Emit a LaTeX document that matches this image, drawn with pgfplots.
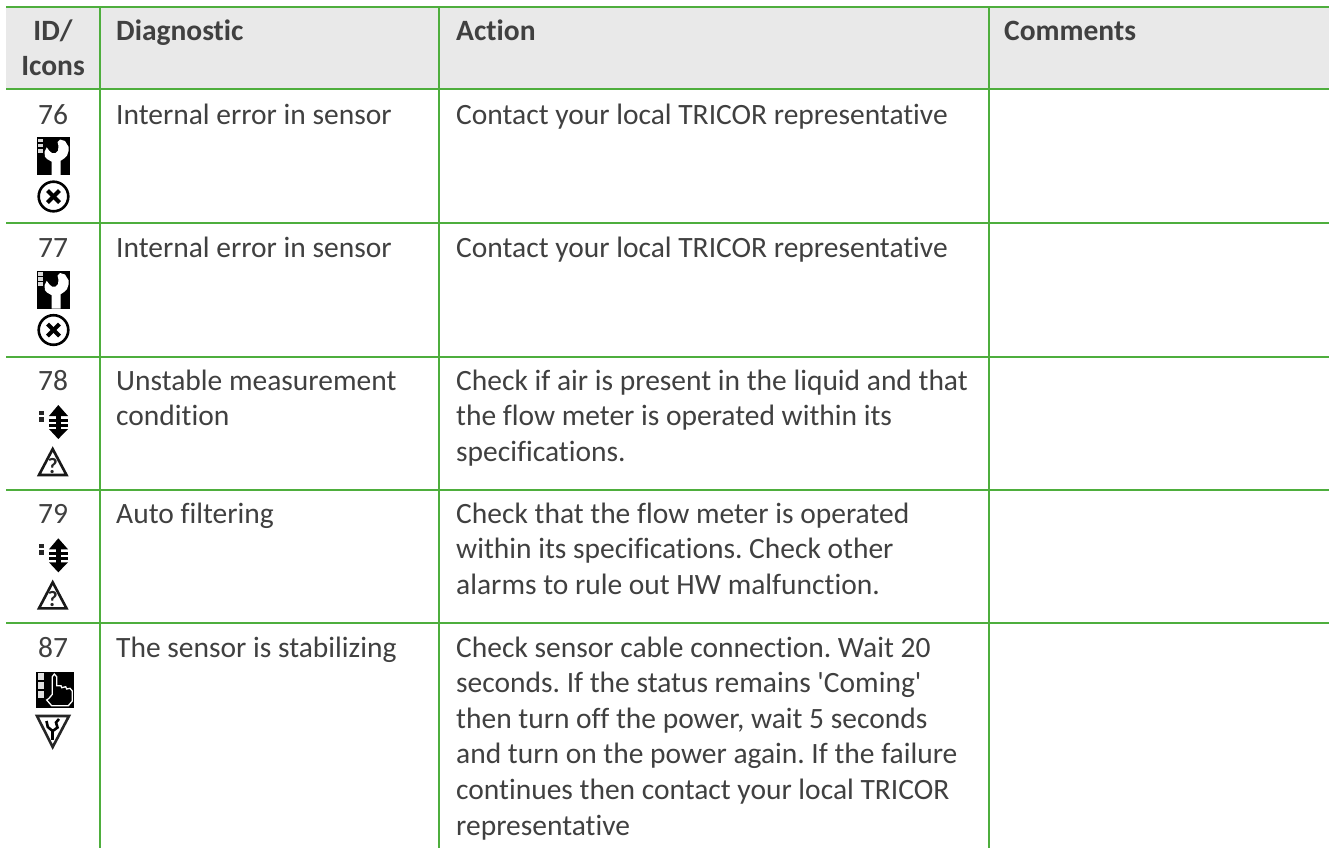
\documentclass[border=0pt]{standalone}
\usepackage{pgfplots}
\pgfplotsset{compat=1.18}
\usepackage{fontspec}
\setmainfont[Ligatures={NoCommon,TeXOff}]{Carlito}
\frenchspacing
\definecolor{gr}{HTML}{4EAE3D}
\definecolor{hd}{HTML}{E9E9E9}
\definecolor{txt}{HTML}{404040}
\newcommand{\body}{\fontsize{29.6}{36}\selectfont\frenchspacing}
\newcommand{\T}[3]{\node[anchor=base west,inner sep=0pt,text=txt,font=\body] at (axis cs:#1,#2) {#3};}
\newcommand{\B}[3]{\node[anchor=base west,inner sep=0pt,text=txt,font=\body\bfseries] at (axis cs:#1,#2) {#3};}
\newcommand{\C}[2]{\node[anchor=base,inner sep=0pt,text=txt,font=\body] at (axis cs:53,#1) {#2};}
\newcommand{\wrenchicon}[1]{%
\addplot[fill=black,draw=none,y filter/.expression={y+#1}] coordinates {(37,137)(70,137)(70,175)(37,175)};
\addplot[fill=white,draw=none,y filter/.expression={y+#1}] coordinates {(60,139.5)(65,141)(68.5,146.7)(68.5,151)(67,155.5)(64,158.5)(60.7,160.7)(60.7,175)(51.7,175)(51.7,161.7)(47,159)(45,156.7)(44.5,152)(46.7,147.3)(49.5,151)(52,153)(55.5,153)(58,150.5)(58.5,146)(57.5,142)};
\addplot[fill=white!85!black,draw=none,y filter/.expression={y+#1}] coordinates {(38,138.5)(43,138.5)(43,142)(38,142)};
\addplot[fill=white!85!black,draw=none,y filter/.expression={y+#1}] coordinates {(38,143.5)(43,143.5)(43,147)(38,147)};
\addplot[fill=white!85!black,draw=none,y filter/.expression={y+#1}] coordinates {(38,148.5)(43,148.5)(43,152.5)(38,152.5)};
\addplot[only marks,mark=o,mark size=14.8bp,mark options={draw=black,line width=2.6bp},y filter/.expression={y+#1}] coordinates {(53.5,196.5)};
\addplot[black,line width=4bp,y filter/.expression={y+#1}] coordinates {(47.5,190.5)(59.5,202.5)};
\addplot[black,line width=4bp,y filter/.expression={y+#1}] coordinates {(47.5,202.5)(59.5,190.5)};
}
\newcommand{\arrowicon}[1]{%
\addplot[fill=black,draw=none,y filter/.expression={y+#1}] coordinates {(58.3,405)(68,416)(49,416)};
\addplot[fill=black,draw=none,y filter/.expression={y+#1}] coordinates {(58.3,439)(68,429)(49,429)};
\addplot[fill=black,draw=none,y filter/.expression={y+#1}] coordinates {(55.8,414)(60.8,414)(60.8,431)(55.8,431)};
\addplot[fill=black,draw=none,y filter/.expression={y+#1}] coordinates {(49,418.8)(67.5,418.8)(67.5,421.7)(49,421.7)};
\addplot[fill=black,draw=none,y filter/.expression={y+#1}] coordinates {(49,424)(67.5,424)(67.5,426.9)(49,426.9)};
\addplot[fill=black!85,draw=none,y filter/.expression={y+#1}] coordinates {(38.5,410.5)(44,410.5)(44,414.8)(38.5,414.8)};
\addplot[fill=black!85,draw=none,y filter/.expression={y+#1}] coordinates {(38.5,416.5)(44,416.5)(44,421.8)(38.5,421.8)};
\addplot[draw=black!90,line width=2.6bp,y filter/.expression={y+#1}] coordinates {(52.7,449)(66.5,475)(39,475)} --cycle;
\node[font=\fontsize{22}{22}\selectfont\bfseries,text=black!85,inner sep=0pt,anchor=base] at (axis cs:52.7,473+#1) {?};
}
\begin{document}
\begin{tikzpicture}
\begin{axis}[hide axis,scale only axis,width=1330bp,height=848bp,xmin=0,xmax=1330,ymin=0,ymax=848,y dir=reverse,clip=false]
\addplot[fill=white,draw=none] coordinates {(0,0)(1330,0)(1330,848)(0,848)};
\addplot[fill=hd,draw=none] coordinates {(6,7)(1329,7)(1329,89.5)(6,89.5)};
% grid lines
\addplot[gr,line width=2bp] coordinates {(6,7)(1329,7)};
\addplot[gr,line width=2bp] coordinates {(6,89.5)(1329,89.5)};
\addplot[gr,line width=2bp] coordinates {(6,222.7)(1329,222.7)};
\addplot[gr,line width=2bp] coordinates {(6,356.7)(1329,356.7)};
\addplot[gr,line width=2bp] coordinates {(6,490)(1329,490)};
\addplot[gr,line width=2bp] coordinates {(6,622.7)(1329,622.7)};
\addplot[gr,line width=2bp] coordinates {(100,7)(100,848)};
\addplot[gr,line width=2bp] coordinates {(439,7)(439,848)};
\addplot[gr,line width=2bp] coordinates {(988.7,7)(988.7,848)};
% header
\node[anchor=base,inner sep=0pt,text=txt,font=\body\bfseries] at (axis cs:53,41) {ID/};
\node[anchor=base,inner sep=0pt,text=txt,font=\body\bfseries] at (axis cs:53,76) {Icons};
\B{116}{41}{Diagnostic}
\B{456}{41}{Action}
\B{1004}{41}{Comments}
% ids
\C{124}{76}
\C{257.5}{77}
\C{390}{78}
\C{523.3}{79}
\C{657}{87}
% diagnostics
\T{116}{124}{Internal error in sensor}
\T{116}{257.5}{Internal error in sensor}
\T{116}{390}{Unstable measurement}
\T{116}{425.6}{condition}
\T{116}{523.3}{Auto filtering}
\T{116}{657}{The sensor is stabilizing}
% actions
\T{456}{124}{Contact your local TRICOR representative}
\T{456}{257.5}{Contact your local TRICOR representative}
\T{456}{390}{Check if air is present in the liquid and that}
\T{456}{425.6}{the flow meter is operated within its}
\T{456}{461.2}{specifications.}
\T{456}{523.3}{Check that the flow meter is operated}
\T{456}{558.9}{within its specifications. Check other}
\T{456}{594.5}{alarms to rule out HW malfunction.}
\T{456}{657}{Check sensor cable connection. Wait 20}
\T{456}{692.6}{seconds. If the status remains 'Coming'}
\T{456}{728.2}{then turn off the power, wait 5 seconds}
\T{456}{763.8}{and turn on the power again. If the failure}
\T{456}{799.4}{continues then contact your local TRICOR}
\T{456}{835}{representative}
% icons
\wrenchicon{0}
\wrenchicon{133.5}
\arrowicon{0}
\arrowicon{133.3}
% hand icon
\addplot[fill=black,draw=none] coordinates {(36,672)(74.3,672)(74.3,707.7)(36,707.7)};
\addplot[fill=white!88!black,draw=none] coordinates {(37.7,673.3)(44.3,673.3)(44.3,680)(37.7,680)};
\addplot[fill=white!88!black,draw=none] coordinates {(37.7,682.3)(44.3,682.3)(44.3,689)(37.7,689)};
\addplot[fill=white!88!black,draw=none] coordinates {(37.7,691)(44.3,691)(44.3,697.7)(37.7,697.7)};
\addplot[draw=white,line width=1.3bp,fill=black] coordinates {(49,698.3)(52.3,694.3)(52.3,676.7)(54.3,674)(56.7,676.7)(56.7,685.7)(61,685.7)(61.7,687.7)(65.7,686.7)(66.7,689)(70,688.3)(72.3,691)(72.3,701)(68.3,705.7)(51.7,705.7)(46.7,700)} --cycle;
% inverted triangle with wrench
\addplot[draw=black!85,line width=2.6bp] coordinates {(37,716)(69,716)(52.7,747)} --cycle;
\addplot[draw=black,line width=2.6bp] coordinates {(46.5,721)(47.8,727)(52.7,731)(57.5,727.5)(56,722.5)(59,719)};
\addplot[draw=black,line width=3bp] coordinates {(52.7,730)(52.7,739.5)};
\end{axis}
\end{tikzpicture}
\end{document}
